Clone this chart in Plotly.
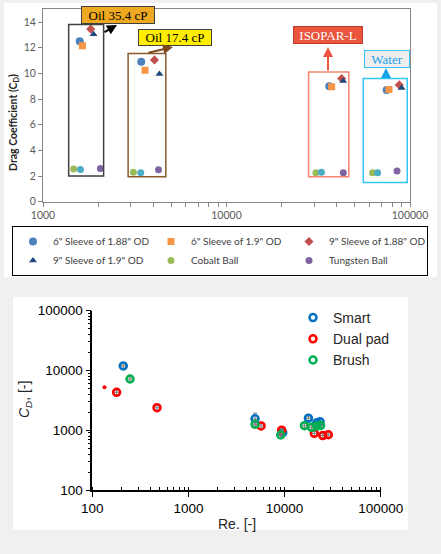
import plotly.graph_objects as go

# ---- top chart: drag coefficient of the sleeves/balls in four fluids ----
sleeve6_188_re = [1585, 3430, 36300, 74600]
sleeve6_188_cd = [12.5, 10.9, 9.0, 8.7]
sleeve6_19_re = [1640, 3600, 37400, 76800]
sleeve6_19_cd = [12.15, 10.25, 8.95, 8.75]
sleeve9_188_re = [1820, 4050, 42400, 87400]
sleeve9_188_cd = [13.45, 11.05, 9.6, 9.1]
sleeve9_19_re = [1885, 4310, 43300, 90100]
sleeve9_19_cd = [13.05, 9.95, 9.4, 8.85]
cobalt_re = [1470, 3110, 30700, 62500]
cobalt_cd = [2.55, 2.3, 2.25, 2.25]
steel_re = [1600, 3410, 32900, 66600]
steel_cd = [2.5, 2.25, 2.3, 2.25]
tungsten_re = [2055, 4260, 43300, 85000]
tungsten_cd = [2.58, 2.48, 2.25, 2.4]

# boxes drawn round each fluid group
fluids = ["Oil 35.4 cP", "Oil 17.4 cP", "ISOPAR-L", "Water"]
box_re_lo = [1380, 2910, 28000, 55600]
box_re_hi = [2140, 4670, 46400, 96600]
box_cd_lo = [2.0, 1.95, 1.95, 1.5]
box_cd_hi = [13.8, 11.55, 10.1, 9.6]

# ---- bottom chart: C_D vs Re for the three pig types ----
smart_re = [210, 4930, 9570, 17700, 21600, 23400]
smart_cd = [11900, 1550, 910, 1590, 1330, 1380]
smart_err = [950, 390, 75, 130, 105, 110]
dual_re = [179, 471, 5700, 9330, 20400, 25000, 28500]
dual_cd = [4310, 2380, 1180, 1000, 887, 815, 840]
brush_re = [247, 4930, 9120, 16100, 19100, 21600, 23700]
brush_cd = [7200, 1256, 832, 1190, 1120, 1175, 1200]
stray_re = [134]
stray_cd = [5220]

W, H = 441, 554


def px(x, y):
    # pixel position -> paper coords
    return x / W, 1 - y / H


fig = go.Figure()

top_series = [
    ('6" Sleeve of 1.88" OD', sleeve6_188_re, sleeve6_188_cd, "circle", "#4F81BD", 8, True),
    ('6" Sleeve of 1.9" OD', sleeve6_19_re, sleeve6_19_cd, "square", "#F79646", 7, True),
    ('9" Sleeve of 1.88" OD', sleeve9_188_re, sleeve9_188_cd, "diamond", "#C0504D", 7, True),
    ('9" Sleeve of 1.9" OD', sleeve9_19_re, sleeve9_19_cd, "triangle-up", "#1F497D", 7, True),
    ("Cobalt Ball", cobalt_re, cobalt_cd, "circle", "#9BBB59", 7, True),
    ("Steel Ball", steel_re, steel_cd, "circle", "#4BACC6", 7, False),
    ("Tungsten Ball", tungsten_re, tungsten_cd, "circle", "#8064A2", 7, True),
]
for name, xs, ys, sym, col, size, show in top_series:
    fig.add_trace(go.Scatter(
        x=xs, y=ys, mode="markers", name=name, showlegend=show,
        marker=dict(symbol=sym, color=col, size=size),
        xaxis="x", yaxis="y", legend="legend",
    ))

bottom_series = [
    ("Smart", smart_re, smart_cd, "#0070C0", smart_err),
    ("Dual pad", dual_re, dual_cd, "#FF0000", None),
    ("Brush", brush_re, brush_cd, "#00B050", None),
]
for name, xs, ys, col, err in bottom_series:
    if err is None:
        ey = dict(type="percent", value=8, color="#7F7F7F", thickness=1, width=2)
    else:
        ey = dict(type="data", array=err, color="#7F7F7F", thickness=1, width=2)
    fig.add_trace(go.Scatter(
        x=xs, y=ys, mode="markers", name=name,
        marker=dict(symbol="circle-open", color=col, size=7, line=dict(width=2.5)),
        error_x=dict(type="percent", value=6, color="#7F7F7F", thickness=1, width=2),
        error_y=ey,
        xaxis="x2", yaxis="y2", legend="legend2",
    ))
fig.add_trace(go.Scatter(
    x=stray_re, y=stray_cd, mode="markers", showlegend=False,
    marker=dict(symbol="circle", color="#FF0000", size=4),
    xaxis="x2", yaxis="y2",
))

# white panels behind both charts
shapes = [
    dict(type="rect", xref="paper", yref="paper", layer="below",
         x0=px(4, 0)[0], x1=px(437, 0)[0], y0=px(0, 277)[1], y1=px(0, 3)[1],
         fillcolor="white", line=dict(width=0)),
    dict(type="rect", xref="paper", yref="paper", layer="below",
         x0=px(13, 0)[0], x1=px(408, 0)[0], y0=px(0, 530)[1], y1=px(0, 297)[1],
         fillcolor="white", line=dict(width=0)),
]
box_colors = ["#404040", "#8B5A2B", "#F4826E", "#33C6F4"]
for i in range(len(fluids)):
    shapes.append(dict(type="rect", xref="x", yref="y",
                       x0=box_re_lo[i], x1=box_re_hi[i], y0=box_cd_lo[i], y1=box_cd_hi[i],
                       line=dict(color=box_colors[i], width=1.5)))

# fluid labels (text boxes) and their arrows
labels = [
    # text, left, top, width, height, fill, border, font colour
    (fluids[0], 81, 6, 72, 16, "#EEA920", "#404040", "black"),
    (fluids[1], 138, 29, 72, 15, "#FFEE00", "#404040", "black"),
    (fluids[2], 293, 26, 68, 16, "#E9553D", "#C0392B", "white"),
    (fluids[3], 364, 50, 44, 16, "#EDEDED", "#33C6F4", "#1AA3E8"),
]
annotations = []
for text, l, t, w, h, fill, border, fcol in labels:
    x, y = px(l, t)
    annotations.append(dict(
        text=text, xref="paper", yref="paper", x=x, y=y, xanchor="left", yanchor="top",
        width=w, height=h, bgcolor=fill, bordercolor=border, borderwidth=1, borderpad=0,
        showarrow=False, align="center", valign="middle",
        font=dict(family="Liberation Serif", size=13, color=fcol),
    ))
arrows = [
    # head x, head y, tail dx, tail dy, colour
    (117, 25, -14, 8, "black"),
    (173, 47, -26, 6, "#7F4A1E"),
    (328, 47, 0, 25, "#E9553D"),
    (386, 68, 0, 10, "#1AA3E8"),
]
for hx, hy, dx, dy, col in arrows:
    x, y = px(hx, hy)
    annotations.append(dict(
        text="", xref="paper", yref="paper", x=x, y=y, ax=dx, ay=dy,
        showarrow=True, arrowhead=2, arrowsize=1, arrowwidth=2, arrowcolor=col, standoff=0,
    ))

# axis titles
x, y = px(14, 123)
annotations.append(dict(
    text="<b>Drag Coefficient (C<sub>D</sub>)</b>", xref="paper", yref="paper", x=x, y=y,
    xanchor="center", yanchor="middle",
    textangle=-90, showarrow=False, font=dict(family="Lato", size=10.5, color="#262626"),
))
x, y = px(25, 400)
annotations.append(dict(
    text="<i>C<sub>D</sub></i>, [-]", xref="paper", yref="paper", x=x, y=y,
    xanchor="center", yanchor="middle",
    textangle=-90, showarrow=False, font=dict(family="Liberation Sans", size=14, color="#262626"),
))
x, y = px(237, 524)
annotations.append(dict(
    text="Re. [-]", xref="paper", yref="paper", x=x, y=y,
    xanchor="center", yanchor="middle",
    showarrow=False, font=dict(family="Liberation Sans", size=14, color="#262626"),
))

top_font = dict(family="Lato", size=10.5, color="#595959")
bot_font = dict(family="Liberation Sans", size=13.5, color="black")

fig.update_layout(
    width=W, height=H, autosize=False,
    margin=dict(l=0, r=0, t=0, b=0, autoexpand=False),
    paper_bgcolor="#F0F0F0", plot_bgcolor="white",
    shapes=shapes, annotations=annotations,
    xaxis=dict(
        type="log", range=[3, 5], domain=[43 / W, 410 / W], anchor="y",
        tickvals=[1000, 10000, 100000], ticktext=["1000", "10000", "100000"],
        showgrid=False, zeroline=False, showline=True, linecolor="#868686", mirror=True,
        ticks="outside", ticklen=4, tickcolor="#868686", tickfont=top_font,
        minor=dict(ticks="outside", ticklen=4, tickcolor="#868686",
                   tickvals=[2000, 3000, 4000, 5000, 6000, 7000, 8000, 9000,
                             20000, 30000, 40000, 50000, 60000, 70000, 80000, 90000]),
    ),
    yaxis=dict(
        range=[0, 15], domain=[1 - 201.7 / H, 1 - 9.2 / H], anchor="x",
        tickvals=[0, 2, 4, 6, 8, 10, 12, 14],
        showgrid=False, zeroline=False, showline=True, linecolor="#868686", mirror=True,
        ticks="outside", ticklen=4, tickcolor="#868686", tickfont=top_font,
    ),
    xaxis2=dict(
        type="log", range=[2, 5], domain=[92.3 / W, 380.7 / W], anchor="y2",
        tickvals=[100, 1000, 10000, 100000], ticktext=["100", "1000", "10000", "100000"],
        showgrid=False, zeroline=False, showline=True, linecolor="black", linewidth=1.5,
        ticks="outside", ticklen=5, tickcolor="black", tickfont=bot_font,
        minor=dict(ticks="inside", ticklen=3, tickcolor="black", dtick="D1"),
    ),
    yaxis2=dict(
        type="log", range=[2, 5], domain=[1 - 490 / H, 1 - 310.7 / H], anchor="x2",
        tickvals=[100, 1000, 10000, 100000], ticktext=["100", "1000", "10000", "100000"],
        showgrid=False, zeroline=False, showline=True, linecolor="black", linewidth=1.5,
        ticks="outside", ticklen=5, tickcolor="black", tickfont=bot_font,
        minor=dict(ticks="outside", ticklen=3, tickcolor="black", dtick="D1"),
    ),
    legend=dict(
        orientation="h", x=12 / W, y=1 - 226 / H, xanchor="left", yanchor="top",
        entrywidth=93, entrywidthmode="pixels", tracegroupgap=0,
        bgcolor="white", bordercolor="black", borderwidth=1,
        font=dict(family="Lato", size=10, color="#404040"),
    ),
    legend2=dict(
        x=293 / W, y=1 - 302 / H, xanchor="left", yanchor="top",
        bgcolor="rgba(0,0,0,0)", borderwidth=0,
        font=dict(family="Liberation Sans", size=14, color="#262626"),
    ),
)

# the page body has a default 8px margin; drop it so the figure fills the window
fig.write_html("out.html", config={"displayModeBar": False},
               post_script="document.body.style.margin = '0';")
